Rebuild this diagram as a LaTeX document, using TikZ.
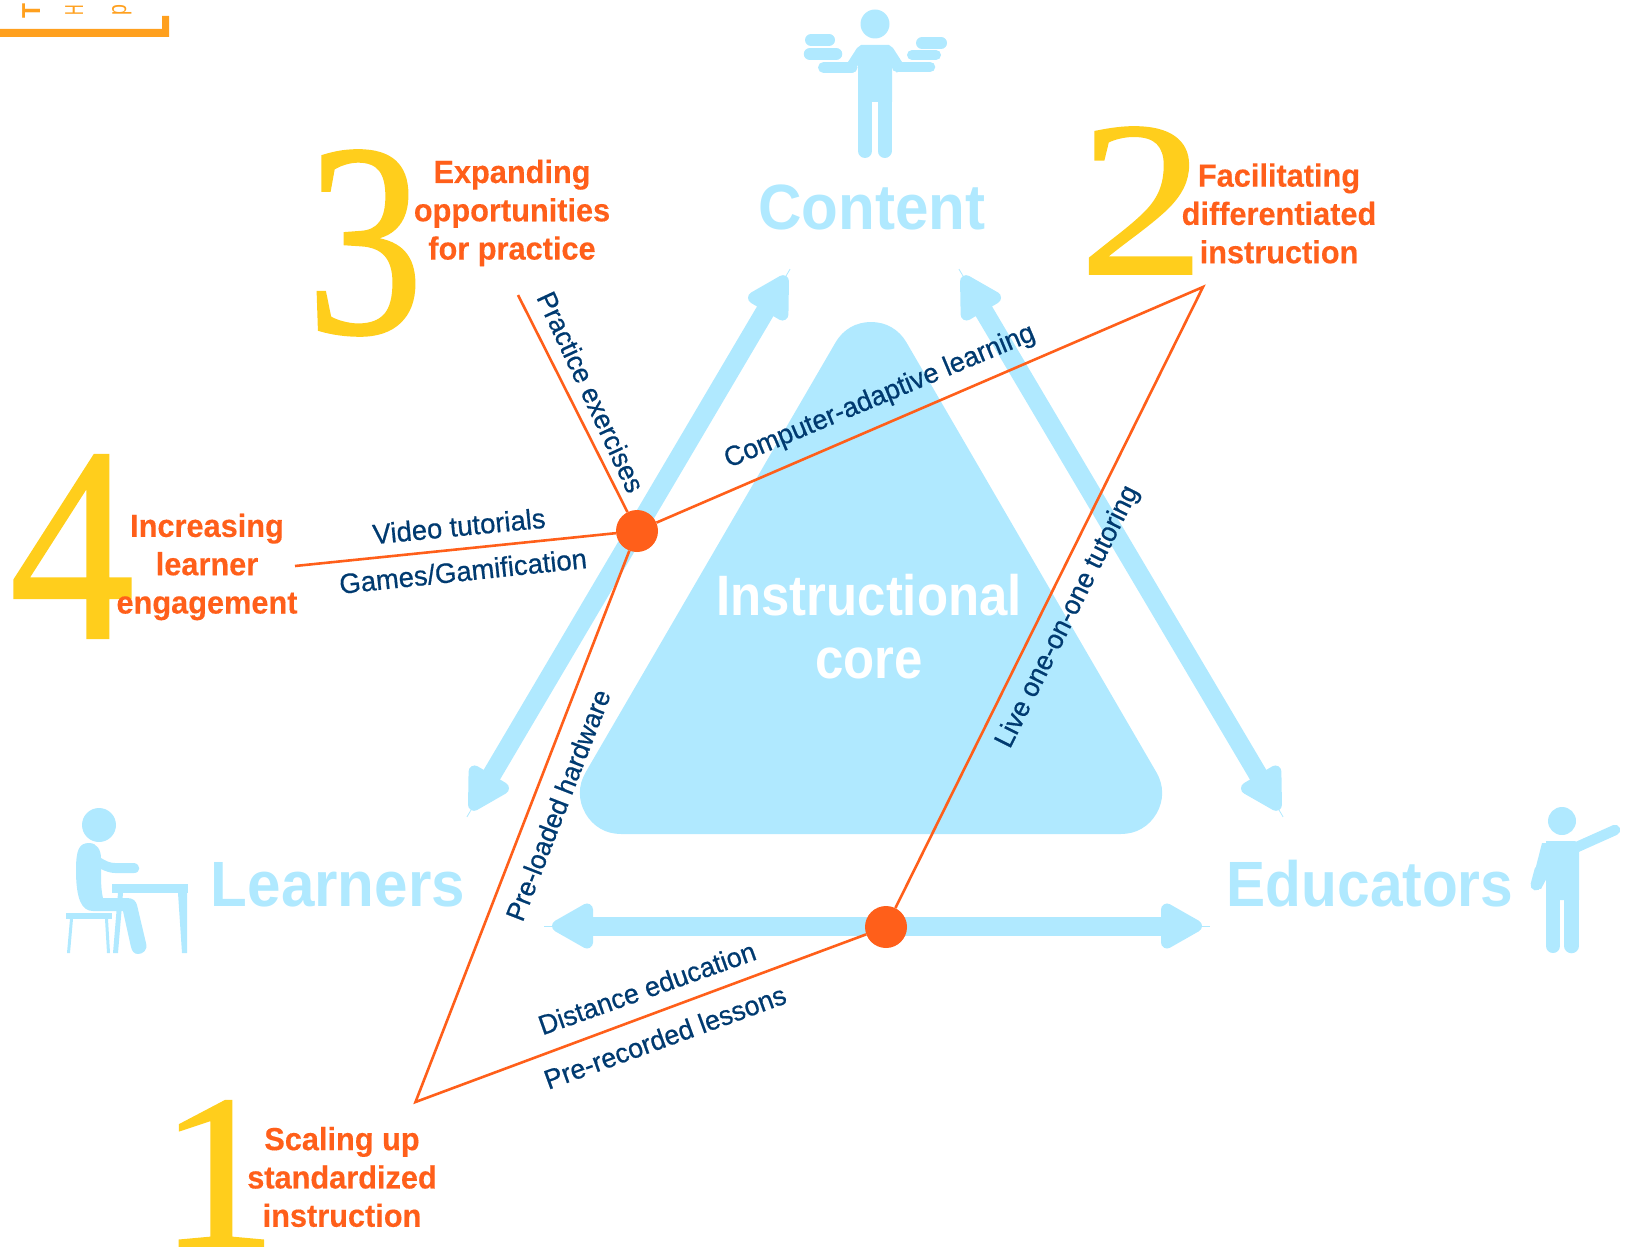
\documentclass[tikz,border=0pt]{standalone}
\usepackage{fontspec}
\usetikzlibrary{calc}
\newfontfamily\hdfont[FakeStretch=0.94]{Liberation Sans}
\newfontfamily\headfont[FakeStretch=0.96,FakeBold=0.3]{Liberation Sans}
\newfontfamily\lblfont[FakeStretch=0.98,FakeBold=0.6]{Liberation Sans}
\newfontfamily\numfont[FakeBold=0.8]{Liberation Serif}
\definecolor{sky}{HTML}{B0E9FF}
\definecolor{hot}{HTML}{FF5F1A}
\definecolor{navy}{HTML}{003A70}
\definecolor{gold}{HTML}{FFCE1C}
\definecolor{amber}{HTML}{FFA01E}
\tikzset{
  iconfill/.style={fill=sky,draw=none},
  limb/.style={draw=sky,line cap=round,line join=round},
  shaft/.style={draw=sky,line width=19pt,line cap=butt},
  hairline/.style={draw=sky,line width=0.8pt},
  tiphead/.style={fill=sky,draw=sky,line width=12pt,line join=round},
  feed/.style={draw=hot,line width=2.6pt,line join=miter},
  hub/.style={circle,fill=hot,draw=none,minimum size=42pt,inner sep=0pt},
  biglabel/.style={text=sky,inner sep=0pt,font=\hdfont\bfseries\fontsize{64}{64}\selectfont},
  corelabel/.style={text=white,inner sep=0pt,font=\hdfont\bfseries\fontsize{57}{57}\selectfont},
  heading/.style={text=hot,align=center,inner sep=0pt,font=\headfont\bfseries\fontsize{32}{38.3}\selectfont},
  feedlabel/.style={text=navy,inner sep=0pt,font=\lblfont\fontsize{#1}{#1}\selectfont},
  feedlabel/.default=28,
  numeral/.style={text=gold,inner sep=0pt,anchor=base,font=\numfont},
  edgetext/.style={text=amber,inner sep=0pt,anchor=base west,rotate=90,font=\hdfont\fontsize{26}{26}\selectfont}
}
\newcommand\headat[2]{%
  \path[tiphead] ($(#1)!6pt!(#2)$)
    -- ($(#1)!35pt!(#2)!16.5pt!90:(#2)$)
    -- ($(#1)!35pt!(#2)!16.5pt!-90:(#2)$) -- cycle;}
\newcommand\bigarrow[2]{%
  \draw[shaft] ($(#1)!30pt!(#2)$) -- ($(#2)!30pt!(#1)$);
  \draw[hairline] ($(#1)!-8pt!(#2)$) -- ($(#2)!-8pt!(#1)$);
  \headat{#1}{#2}\headat{#2}{#1}}
\begin{document}
\begin{tikzpicture}[x=1pt,y=-1pt]
\useasboundingbox (0,0) rectangle (1629,1249);

% instructional core
\path[fill=sky,draw=sky,line width=82pt,line join=round] (621,793) -- (1121,793) -- (871,363) -- cycle;

% arrows
\coordinate (tipTL) at (786,276);
\coordinate (tipBL) at (471,810);
\coordinate (tipTR) at (963,276);
\coordinate (tipBR) at (1279,810);
\coordinate (tipL) at (552,926);
\coordinate (tipR) at (1202,926);
\bigarrow{tipTL}{tipBL}
\bigarrow{tipTR}{tipBR}
\bigarrow{tipL}{tipR}

% content icon
\fill[iconfill] (875,24) circle (14.5);
\fill[iconfill] (858,102) -- (858,65) -- (853,73) -- (848,62) -- (857,48) -- (861,45) -- (889,45) -- (893,48) -- (902,62) -- (897,73) -- (892,65) -- (892,102) -- cycle;
\draw[limb,line width=14pt] (865,96) -- (865,151);
\draw[limb,line width=14pt] (884.5,96) -- (884.5,151);
\draw[limb,line width=11pt] (823.5,67.5) -- (852,67.5);
\draw[limb,line width=10.5pt] (897,67) -- (930,67);
\draw[limb,line width=12pt] (811,40) -- (829,40);
\draw[limb,line width=12.5pt] (810,54) -- (836,54);
\draw[limb,line width=12pt] (922,43) -- (941,43);
\draw[limb,line width=10pt] (912,55) -- (936,55);

% learner icon
\fill[iconfill] (99,825) circle (17);
\fill[iconfill] (76,870) .. controls (76,850) and (79,843) .. (89,843) .. controls (97,843) and (101,850) .. (101,858)
  .. controls (106,861) and (110,863) .. (115,863) -- (134,863) .. controls (141,864) and (141,873) .. (134,873)
  -- (115,873) .. controls (110,873) and (105,871) .. (101,869)
  .. controls (101,880) and (101,890) .. (103,898) -- (127,898) .. controls (133,898) and (136,901) .. (137,905)
  -- (146,943) .. controls (148,950) and (143,954) .. (138,954) .. controls (134,954) and (132,951) .. (131,947)
  -- (123,911) -- (93,911) .. controls (82,911) and (76,900) .. (76,870) -- cycle;
\fill[iconfill] (112,884) -- (188,884) -- (188,893) -- (112,893) -- cycle;
\fill[iconfill] (178,893) -- (187,893) -- (187,953) -- (182,953) -- cycle;
\fill[iconfill] (118,893) -- (123,893) -- (118,953) -- (113,953) -- cycle;
\fill[iconfill] (66,913) -- (112,913) -- (112,919) -- (66,919) -- cycle;
\fill[iconfill] (70,919) -- (73,919) -- (70,953) -- (67,953) -- cycle;
\fill[iconfill] (105,919) -- (108,919) -- (110,953) -- (107,953) -- cycle;

% educator icon
\fill[iconfill] (1562,821) circle (14);
\fill[iconfill] (1546,841) -- (1575,841) -- (1579,845) -- (1579,900) -- (1546,900) -- cycle;
\fill[iconfill] (1542,843) -- (1550,843) -- (1551,870) -- (1541,889) -- (1531,886) -- cycle;
\draw[limb,line width=11pt] (1536,885) -- (1540,870);
\draw[limb,line width=10.5pt] (1577,847) -- (1615,830);
\draw[limb,line width=14pt] (1553,895) -- (1553,946);
\draw[limb,line width=14.5pt] (1571.5,895) -- (1571.5,946);

% corner mark
\fill[amber] (0,29) -- (162,29) -- (162,16) -- (169,16) -- (169,37) -- (0,37) -- cycle;
\node[edgetext,font=\hdfont\bfseries\fontsize{26}{26}\selectfont] (markT) at (40,18.5) {T};
\node[edgetext] (markH) at (83,16) {\scalebox{.6}[1]{H}};
\node[edgetext] (markP) at (126,16) {\scalebox{.8}[1]{p}};

% feeds
\node[hub] (hubA) at (637,531) {};
\node[hub] (hubB) at (886,927) {};
\coordinate (cornerS) at (415.5,1102);
\coordinate (cornerE) at (1203,287);
\coordinate (endPractice) at (518,295);
\coordinate (endEngage) at (295,566);
\draw[feed] (hubA) -- (cornerS) -- (hubB);
\draw[feed] (hubA) -- (cornerE) -- (hubB);
\draw[feed] (hubA) -- (endPractice);
\draw[feed] (hubA) -- (endEngage);

% titles
\node[biglabel] (tContent) at (872,207) {Content};
\node[biglabel,anchor=base] (tLearners) at (338,906) {Learners};
\node[biglabel,anchor=base] (tEducators) at (1370,906) {\scalebox{.975}[1]{Educators}};
\node[corelabel,anchor=base] (tInstr) at (869,615) {\scalebox{.95}[1]{Instructional}};
\node[corelabel,anchor=base] (tCore) at (869,678) {\scalebox{.95}[1]{core}};

% numerals
\node[numeral] (num3) at (365,333) {\scalebox{.85}[1]{\fontsize{276}{276}\selectfont 3}};
\node[numeral] (num2) at (1142,274) {\scalebox{1.14}[1]{\fontsize{222}{222}\selectfont 2}};
\node[numeral] (num4) at (72,638) {\scalebox{.9}[1]{\fontsize{278}{278}\selectfont 4}};
\node[numeral] (num1) at (218,1246) {\scalebox{1.08}[1]{\fontsize{220}{220}\selectfont 1}};

% headings
\node[heading] (h3) at (512,213) {Expanding\\opportunities\\for practice};
\node[heading] (h2) at (1279,213.5) {Facilitating\\differentiated\\instruction};
\node[heading] (h4) at (207,567) {Increasing\\learner\\engagement};
\node[heading] (h1) at (342,1177) {Scaling up\\standardized\\instruction};

% feed labels
\node[feedlabel=27.4,rotate=-65] (lPractice) at (591,392) {Practice exercises};
\node[feedlabel=27.6,rotate=22.7] (lAdaptive) at (880,397) {Computer-adaptive learning};
\node[feedlabel,rotate=5.5] (lVideo) at (459,526) {Video tutorials};
\node[feedlabel,rotate=6] (lGames) at (463,571) {Games/Gamification};
\node[feedlabel=26.8,rotate=68.8] (lHardware) at (558,805) {Pre-loaded hardware};
\node[feedlabel=27.2,rotate=63.5] (lLive) at (1068,617) {Live one-on-one tutoring};
\node[feedlabel=27.4,rotate=19.5] (lDistance) at (647,988) {Distance education};
\node[feedlabel=27.4,rotate=20] (lRecorded) at (665,1037) {Pre-recorded lessons};
\end{tikzpicture}
\end{document}
